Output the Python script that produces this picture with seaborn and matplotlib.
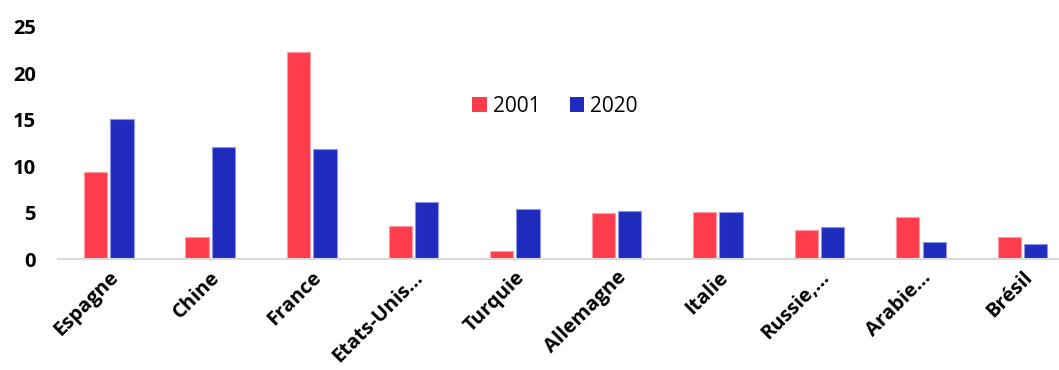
import matplotlib
matplotlib.use("Agg")
import matplotlib.pyplot as plt
import seaborn as sns
import pandas as pd

countries = ["Espagne", "Chine", "France", "Etats-Unis…", "Turquie",
             "Allemagne", "Italie", "Russie,…", "Arabie…", "Brésil"]
years = ["2001", "2020"]
values_2001 = [9.4, 2.4, 22.3, 3.6, 0.9, 5.0, 5.1, 3.2, 4.6, 2.4]
values_2020 = [15.1, 12.1, 11.9, 6.2, 5.4, 5.2, 5.1, 3.5, 1.9, 1.6]
y_ticks = [0, 5, 10, 15, 20, 25]

colors = {"2001": "#FF3C4C", "2020": "#1F2BBD"}
edge_colors = {"2001": "#FF9AA2", "2020": "#8E96E4"}

df = pd.DataFrame({
    "pays": countries * 2,
    "annee": [years[0]] * len(countries) + [years[1]] * len(countries),
    "valeur": values_2001 + values_2020,
})

sns.set_theme(style="white")
plt.rcParams["font.family"] = ["Open Sans", "DejaVu Sans"]

fig = plt.figure(figsize=(10.59, 3.70), dpi=100)
ax = fig.add_axes([58 / 1059, 1 - 259.3 / 370, 1 - 58 / 1059, (259.3 - 26.7) / 370])

sns.barplot(data=df, x="pays", y="valeur", hue="annee", order=countries,
            hue_order=years, palette=colors, width=0.52, gap=0.12,
            saturation=1, ax=ax, legend=False)

# lighter outline on each bar
for container, yr in zip(ax.containers, years):
    for bar in container:
        bar.set_edgecolor(edge_colors[yr])
        bar.set_linewidth(0.8)

ax.set_xlim(-0.5, 9.36)
ax.set_ylim(0, 25)
ax.set_yticks(y_ticks)
ax.set_yticklabels([str(t) for t in y_ticks], fontsize=14.5, fontweight="bold", color="#000000")
ax.tick_params(axis="y", length=0, pad=16)
ax.tick_params(axis="x", length=0, pad=6)
ax.set_xticks(range(len(countries)))
ax.set_xticklabels(countries, rotation=45, ha="right", rotation_mode="anchor",
                   fontsize=14.5, fontweight="bold", color="#000000")
ax.set_xlabel("")
ax.set_ylabel("")

for side in ["top", "right", "left"]:
    ax.spines[side].set_visible(False)
ax.spines["bottom"].set_color("#D9D9D9")
ax.spines["bottom"].set_linewidth(1.5)

handles = [plt.Rectangle((0, 0), 1, 1, facecolor=colors[y], edgecolor="none") for y in years]
leg = fig.legend(handles, years, loc="center", bbox_to_anchor=(555 / 1059, 1 - 106 / 370),
                 ncol=2, frameon=False, fontsize=15, handlelength=0.7, handleheight=0.7,
                 handletextpad=0.3, columnspacing=1.4)
for t in leg.get_texts():
    t.set_color("#000000")

fig.savefig("out.png", dpi=100)
